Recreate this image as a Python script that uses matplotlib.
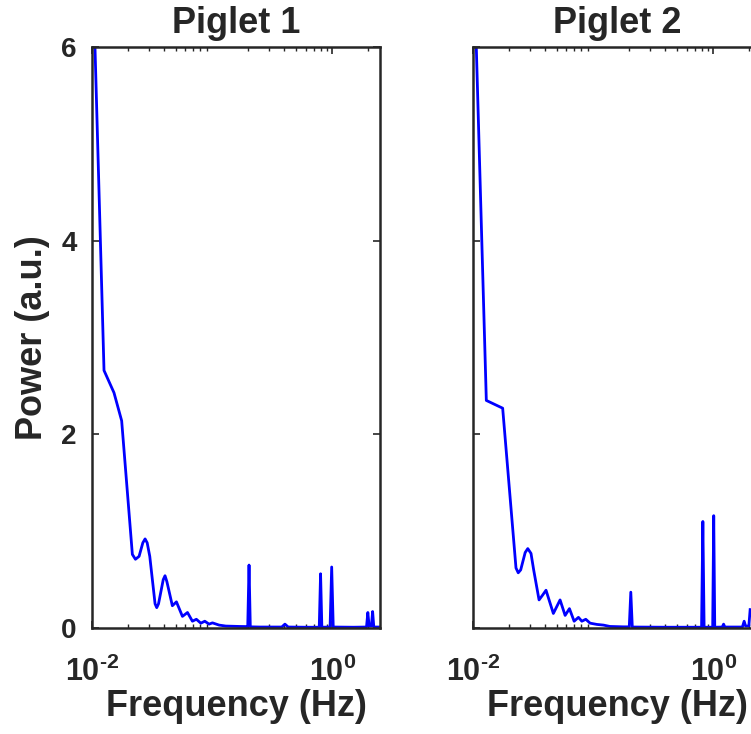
import matplotlib
matplotlib.use("Agg")
import matplotlib.pyplot as plt
from matplotlib.ticker import LogLocator, NullFormatter, FixedLocator

# Power spectra (a.u.) of two piglets, frequency in Hz
freq_p1 = [0.0100, 0.01259, 0.01524, 0.01766, 0.02168, 0.02300, 0.02466, 0.02650,
           0.02767, 0.02880, 0.03027, 0.03350, 0.03459, 0.03580, 0.03920, 0.04055,
           0.04200, 0.04667, 0.05047, 0.05662, 0.06237, 0.06855, 0.07396,
           0.08054, 0.08690, 0.09441, 0.1007, 0.1143, 0.1300, 0.1679, 0.1910,
           0.198, 0.203, 0.208, 0.25, 0.38, 0.404, 0.43, 0.60,
           0.78, 0.80, 0.82, 0.96, 0.99, 1.02, 1.50,
           1.93, 1.98, 2.03, 2.12, 2.17, 2.22, 2.50]
power_p1 = [7.1, 2.66, 2.43, 2.14, 0.76, 0.71, 0.74, 0.88,
            0.92, 0.88, 0.74, 0.25, 0.21, 0.25, 0.50, 0.54,
            0.48, 0.23, 0.27, 0.12, 0.16, 0.07, 0.09,
            0.05, 0.07, 0.04, 0.053, 0.03, 0.02, 0.016, 0.015,
            0.015, 0.65, 0.012, 0.01, 0.01, 0.04, 0.01, 0.008,
            0.008, 0.56, 0.008, 0.01, 0.63, 0.01, 0.008,
            0.01, 0.16, 0.02, 0.02, 0.17, 0.01, 0.01]

freq_p2 = [0.0100, 0.01291, 0.01766, 0.02280, 0.02380, 0.02495, 0.02720, 0.02858,
           0.03041, 0.03200, 0.03548, 0.03800, 0.04055, 0.04667, 0.05309, 0.05848,
           0.06353, 0.06950, 0.07551, 0.08054, 0.08690, 0.09441, 0.1074, 0.1219,
           0.1380, 0.1791,
           0.200, 0.206, 0.212, 0.40,
           0.80, 0.82, 0.84, 0.99, 1.01, 1.03,
           1.19, 1.22, 1.25, 1.75, 1.81, 1.86, 1.98, 2.03]
power_p2 = [7.2, 2.35, 2.27, 0.62, 0.57, 0.60, 0.78, 0.82,
            0.77, 0.60, 0.29, 0.34, 0.39, 0.15, 0.29, 0.13,
            0.20, 0.07, 0.11, 0.07, 0.09, 0.05, 0.037, 0.03,
            0.016, 0.012,
            0.012, 0.37, 0.01, 0.008,
            0.008, 1.10, 0.008, 0.008, 1.16, 0.008,
            0.01, 0.04, 0.01, 0.01, 0.07, 0.02, 0.02, 0.19]

titles = ["Piglet 1", "Piglet 2"]
y_ticks = [0, 2, 4, 6]
x_ticks = [0.01, 1.0]
x_tick_labels = ["$10^{\u20102}$", "$10^{0}$"]

plt.rcParams.update({
    "font.family": ["Liberation Sans", "DejaVu Sans"],
    "font.weight": "bold",
    "mathtext.fontset": "custom",
    "mathtext.rm": "Liberation Sans:bold",
    "mathtext.it": "Liberation Sans:bold",
    "mathtext.bf": "Liberation Sans:bold",
    "mathtext.sf": "Liberation Sans:bold",
    "text.color": "#262626",
    "axes.labelcolor": "#262626",
    "xtick.color": "#262626",
    "ytick.color": "#262626",
})

W, H = 751, 734
fig = plt.figure(figsize=(W / 100, H / 100), dpi=100)

ax_w = 288 / W
ax_h = 581 / H
ax_b = 1 - 628 / H
lefts = [92 / W, 473 / W]

data = [(freq_p1, power_p1), (freq_p2, power_p2)]
axes = []
for i, (f, p) in enumerate(data):
    ax = fig.add_axes([lefts[i], ax_b, ax_w, ax_h])
    ax.plot(f, p, color="#0000ff", linewidth=2.0)
    ax.set_xscale("log")
    ax.set_xlim(0.01, 2.5)
    ax.set_ylim(0, 6)
    ax.set_yticks(y_ticks)
    ax.xaxis.set_major_locator(FixedLocator(x_ticks))
    ax.set_xticklabels(x_tick_labels)
    ax.xaxis.set_minor_locator(LogLocator(base=10, subs=range(2, 10)))
    ax.xaxis.set_minor_formatter(NullFormatter())
    ax.tick_params(which="both", direction="in", top=True, right=True)
    ax.tick_params(which="major", length=5, width=1.2)
    ax.tick_params(which="minor", length=3, width=1.0)
    ax.tick_params(axis="x", which="major", labelsize=22, pad=21)
    ax.tick_params(axis="y", which="major", labelsize=20, pad=11)
    for s in ax.spines.values():
        s.set_linewidth(1.8)
        s.set_color("#262626")
    ax.set_title(titles[i], fontsize=26, fontweight="bold", pad=10)
    ax.set_xlabel("Frequency (Hz)", fontsize=26, fontweight="bold", labelpad=0.5)
    if i == 0:
        ax.set_ylabel("Power (a.u.)", fontsize=26, fontweight="bold", labelpad=8)
    else:
        ax.set_yticklabels([])
    axes.append(ax)

fig.savefig("out.png", dpi=100)
